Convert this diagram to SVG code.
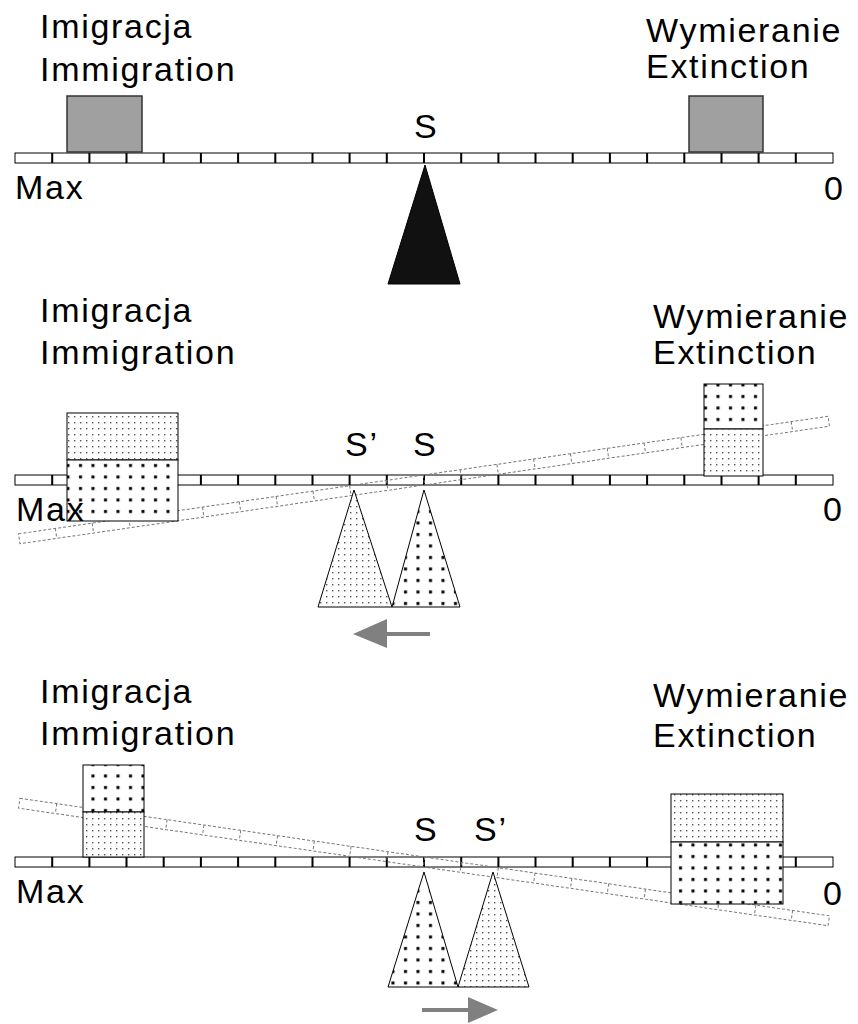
<svg xmlns="http://www.w3.org/2000/svg" xmlns:xlink="http://www.w3.org/1999/xlink" width="858" height="1024" viewBox="0 0 858 1024">
  <style>
    .lbl { font-family: "Liberation Sans", Arial, sans-serif; font-size: 34px; letter-spacing: 1.7px; fill: #000; }
    .beam { fill: #fff; stroke: #000; stroke-width: 1; }
    .tick { stroke: #000; stroke-width: 2; }
    .tilt { fill: none; stroke: #777; stroke-width: 1; stroke-dasharray: 3 2; }
    .solid { fill: #a0a0a0; stroke: #333; stroke-width: 1.5; }
    .box { stroke: #000; stroke-width: 1; }
    .arrow { fill: #808080; }
  </style>
  <defs>
    <pattern id="fine" width="6" height="6" patternUnits="userSpaceOnUse">
      <rect width="6" height="6" fill="#fff"/>
      <rect x="2" y="2" width="1.4" height="1.4" fill="#555"/>
    </pattern>
    <pattern id="coarse" width="12.5" height="11.5" patternUnits="userSpaceOnUse">
      <rect width="12.5" height="11.5" fill="#fff"/>
      <rect x="4" y="4" width="3" height="3" fill="#000"/>
    </pattern>
    <!-- segmented scale bar, 22 segments -->
    <g id="scale">
      <rect class="beam" x="15" y="0" width="818" height="10"/>
      <path class="tick" d="M52.2 0v10M89.4 0v10M126.5 0v10M163.7 0v10M200.9 0v10M238.1 0v10M275.3 0v10M312.5 0v10M349.6 0v10M386.8 0v10M424 0v10M461.2 0v10M498.4 0v10M535.5 0v10M572.7 0v10M609.9 0v10M647.1 0v10M684.3 0v10M721.5 0v10M758.6 0v10M795.8 0v10"/>
    </g>
    <!-- faint tilted copy of the scale bar -->
    <g id="scaleGhost">
      <rect class="tilt" x="15" y="0" width="818" height="10"/>
      <path class="tilt" d="M52.2 0v10M89.4 0v10M126.5 0v10M163.7 0v10M200.9 0v10M238.1 0v10M275.3 0v10M312.5 0v10M349.6 0v10M386.8 0v10M424 0v10M461.2 0v10M498.4 0v10M535.5 0v10M572.7 0v10M609.9 0v10M647.1 0v10M684.3 0v10M721.5 0v10M758.6 0v10M795.8 0v10"/>
    </g>
  </defs>

  <!-- Panel 1: balanced -->
  <g id="panel1">
    <g id="p1-scale"><use xlink:href="#scale" href="#scale" transform="translate(0 153)"/></g>
    <g id="p1-immigration"><rect class="solid" x="67" y="96" width="75" height="56"/></g>
    <g id="p1-extinction"><rect class="solid" x="689" y="96" width="74" height="56"/></g>
    <g id="p1-pivot"><polygon points="425,165 460,284 388,284" fill="#111" stroke="#000" stroke-width="1"/></g>
    <g id="p1-labels">
      <text class="lbl" x="40" y="38">Imigracja</text>
      <text class="lbl" x="40" y="81">Immigration</text>
      <text class="lbl" x="646" y="42">Wymieranie</text>
      <text class="lbl" x="646" y="78">Extinction</text>
      <text class="lbl" x="414" y="138">S</text>
      <text class="lbl" x="15" y="199">Max</text>
      <text class="lbl" x="824" y="200">0</text>
    </g>
  </g>

  <!-- Panel 2: immigration outweighs, S shifts left -->
  <g id="panel2">
    <g id="p2-scale"><use xlink:href="#scale" href="#scale" transform="translate(0 475)"/></g>
    <g id="p2-tilt"><use xlink:href="#scaleGhost" href="#scaleGhost" transform="rotate(-8.26 424 480) translate(0 475)"/></g>
    <g id="p2-immigration">
      <rect class="box" x="67" y="413" width="111" height="47" fill="url(#fine)"/>
      <rect class="box" x="67" y="460" width="111" height="61" fill="url(#coarse)"/>
    </g>
    <g id="p2-extinction">
      <rect class="box" x="704" y="384" width="59" height="45" fill="url(#coarse)"/>
      <rect class="box" x="704" y="429" width="59" height="47" fill="url(#fine)"/>
    </g>
    <g id="p2-pivot-new"><polygon class="box" points="354,490 392,607 318,607" fill="url(#fine)"/></g>
    <g id="p2-pivot-old"><polygon class="box" points="424,490 460,607 392,607" fill="url(#coarse)"/></g>
    <g id="p2-labels">
      <text class="lbl" x="40" y="322">Imigracja</text>
      <text class="lbl" x="40" y="364">Immigration</text>
      <text class="lbl" x="653" y="328">Wymieranie</text>
      <text class="lbl" x="653" y="364">Extinction</text>
      <text class="lbl" x="345" y="456">S’</text>
      <text class="lbl" x="413" y="456">S</text>
      <text class="lbl" x="16" y="521">Max</text>
      <text class="lbl" x="823" y="521">0</text>
    </g>
  </g>

  <!-- Panel 3: extinction outweighs, S shifts right -->
  <g id="panel3">
    <g id="p3-scale"><use xlink:href="#scale" href="#scale" transform="translate(0 857)"/></g>
    <g id="p3-tilt"><use xlink:href="#scaleGhost" href="#scaleGhost" transform="rotate(8.26 424 862) translate(0 857)"/></g>
    <g id="p3-immigration">
      <rect class="box" x="83" y="765" width="61" height="47" fill="url(#coarse)"/>
      <rect class="box" x="83" y="812" width="61" height="45" fill="url(#fine)"/>
    </g>
    <g id="p3-extinction">
      <rect class="box" x="671" y="794" width="112" height="48" fill="url(#fine)"/>
      <rect class="box" x="671" y="842" width="112" height="62" fill="url(#coarse)"/>
    </g>
    <g id="p3-pivot-old"><polygon class="box" points="424,872 458,987 388,987" fill="url(#coarse)"/></g>
    <g id="p3-pivot-new"><polygon class="box" points="493,872 529,987 458,987" fill="url(#fine)"/></g>
    <g id="p3-labels">
      <text class="lbl" x="40" y="703">Imigracja</text>
      <text class="lbl" x="40" y="745">Immigration</text>
      <text class="lbl" x="653" y="707">Wymieranie</text>
      <text class="lbl" x="653" y="747">Extinction</text>
      <text class="lbl" x="414" y="841">S</text>
      <text class="lbl" x="474" y="841">S’</text>
      <text class="lbl" x="16" y="903">Max</text>
      <text class="lbl" x="823" y="905">0</text>
    </g>
  </g>

  <!-- shift arrows -->
  <g id="connectors">
    <path class="arrow" d="M353 634 L387 619 L387 632 L430 632 L430 636 L387 636 L387 648 Z"/>
    <path class="arrow" d="M498 1010 L468 997 L468 1008 L422 1008 L422 1012 L468 1012 L468 1023 Z"/>
  </g>
</svg>
